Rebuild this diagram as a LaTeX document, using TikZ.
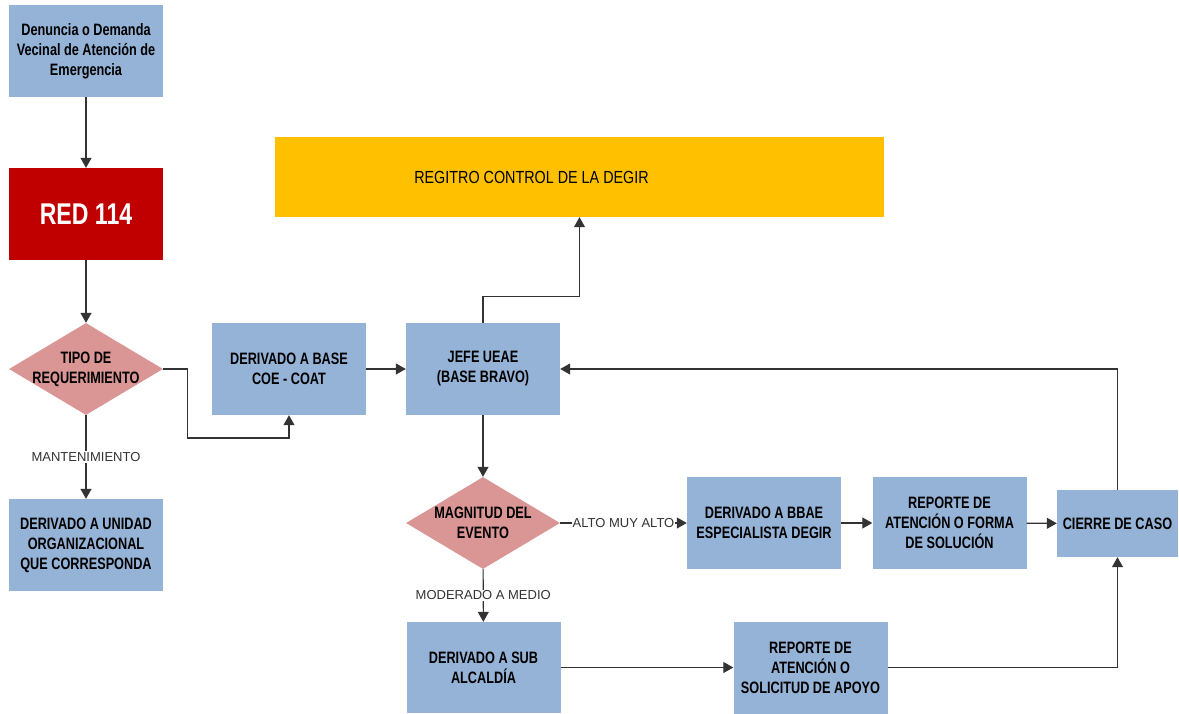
\documentclass[tikz,border=0pt]{standalone}
\usepackage{fontspec}
\setmainfont{Liberation Sans}
\newfontfamily\narrowfont[FakeStretch=0.77]{Liberation Sans}
\newfontfamily\regfont[FakeStretch=0.82]{Liberation Sans}
\usetikzlibrary{arrows.meta,shapes.geometric}
\definecolor{boxblue}{HTML}{95B3D7}
\definecolor{boxred}{HTML}{C00000}
\definecolor{diampink}{HTML}{DA9694}
\definecolor{regyellow}{HTML}{FFC000}
\tikzstyle{block}=[rectangle,fill=boxblue,minimum width=154pt,minimum height=92pt,inner sep=0pt,align=center,font=\narrowfont\bfseries\fontsize{16.5}{20}\selectfont]
\tikzstyle{decision}=[diamond,fill=diampink,minimum width=154pt,minimum height=92pt,inner sep=0pt]
\tikzstyle{dtext}=[align=center,font=\narrowfont\bfseries\fontsize{16.5}{20}\selectfont]
\tikzstyle{regtext}=[font=\regfont\fontsize{17.5}{20}\selectfont]
\tikzstyle{edge}=[draw,line width=1.1pt,black!80,-{Triangle[length=10pt,width=11pt]}]
\tikzstyle{cond}=[font=\fontsize{13}{15}\selectfont,fill=white,inner sep=1pt]

\begin{document}
\begin{tikzpicture}[x=1pt,y=-1pt]
				\useasboundingbox (0,0) rectangle (1179,713);

				% First we draw the boxes
				\foreach \pos/\name/\txt in {{(86,51)/denuncia/{Denuncia o Demanda\\Vecinal de Atención de\\Emergencia}},
										{(86,545)/unidad/{DERIVADO A UNIDAD\\ORGANIZACIONAL\\QUE CORRESPONDA}},
										{(289,369)/coe/{DERIVADO A BASE\\COE - COAT}},
										{(483,369)/jefe/{JEFE UEAE\\(BASE BRAVO)}},
										{(764,523)/bbae/{DERIVADO A BBAE\\ESPECIALISTA DEGIR}},
										{(949.5,523)/repuno/{REPORTE DE\\ATENCIÓN O FORMA\\DE SOLUCIÓN}},
										{(810.5,667.5)/repdos/{REPORTE DE\\ATENCIÓN O\\SOLICITUD DE APOYO}}}
				\node[block] (\name) at \pos {\txt};

				\node[block, minimum height=91pt] (subalc) at (483.5,667.5) {DERIVADO A SUB\\ALCALDÍA};
				\node[block, minimum width=121pt, minimum height=67pt] (cierre) at (1117.5,523.5) {CIERRE DE CASO};
				\node[block, fill=boxred, text=white, font=\narrowfont\bfseries\fontsize{30}{32}\selectfont] (red) at (86,214) {RED 114};
				\node[block, fill=regyellow, minimum width=609pt, minimum height=80pt,
					label={[regtext, xshift=-48pt]center:REGITRO CONTROL DE LA DEGIR}] (registro) at (579.5,177) {};

				% Then the two decisions
				\node[decision, label={[dtext]center:TIPO DE\\REQUERIMIENTO}] (tipo) at (86,369) {};
				\node[decision, label={[dtext]center:MAGNITUD DEL\\EVENTO}] (magnitud) at (483,523) {};

				% Connect the boxes
				\foreach \source/ \dest in {denuncia/red, red/tipo, coe/jefe, jefe/magnitud, bbae/repuno, repuno/cierre, subalc/repdos}
				\path[edge] (\source) -- (\dest);

				\path[edge] (tipo) -- node[cond] {MANTENIMIENTO} (unidad);
				\path[edge] (magnitud) -- node[cond] {ALTO MUY ALTO} (bbae);
				\path[edge] (magnitud) -- node[cond] {MODERADO A MEDIO} (subalc);

				\path[edge] (tipo.east) -- ++(24,0) -- ++(0,69) -| (coe.south);
				\path[edge] (jefe.north) -- ++(0,-26) -| (registro.south);
				\path[edge] (repdos.east) -| (cierre.south);
				\path[edge] (cierre.north) |- (jefe.east);

			\end{tikzpicture}
\end{document}
